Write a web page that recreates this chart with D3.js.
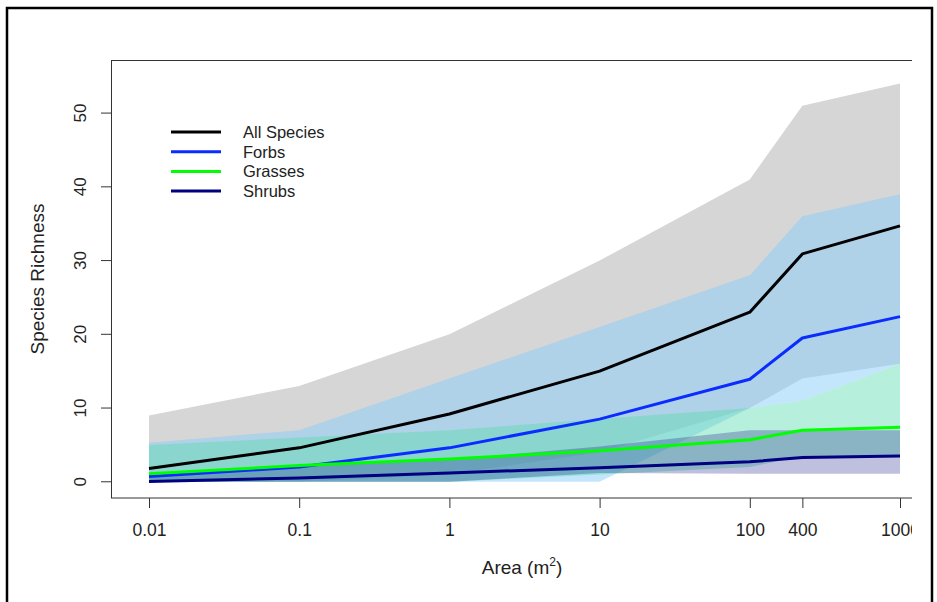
<!DOCTYPE html>
<html>
<head>
<meta charset="utf-8">
<script src="https://cdnjs.cloudflare.com/ajax/libs/d3/7.8.5/d3.min.js"></script>
<style>
  body { margin: 0; background: #fff; }
  svg { display: block; font-family: "Liberation Sans", Arial, sans-serif; }
</style>
</head>
<body>
<svg width="937" height="602"></svg>
<script>
// areas sampled (m^2) and where the original plot put them on the x axis
var areaLabels = ['0.01', '0.1', '1', '10', '100', '400', '1000'];
var areaPos = [-2, -1, 0, 1, 2, 2.35, 3];

var allMean  = [1.8, 4.6, 9.2, 15.0, 23.0, 30.9, 34.7];
var allLo    = [0, 0, 1, 4, 10, 14, 16];
var allHi    = [9, 13, 20, 30, 41, 51, 54];

var forbMean = [0.7, 2.0, 4.6, 8.5, 13.9, 19.5, 22.4];
var forbLo   = [0, 0, 0, 0, 10, 11, 16];
var forbHi   = [5.3, 7, 14, 21, 28, 36, 39];

var grassMean = [1.1, 2.2, 3.1, 4.2, 5.7, 7.0, 7.4];
var grassLo   = [0, 0, 0, 1, 2, 3.5, 3.5];
var grassHi   = [5, 6, 7, 8.5, 10, 11, 16];

var shrubMean = [0.05, 0.5, 1.2, 1.9, 2.7, 3.3, 3.5];
var shrubLo   = [0, 0, 0, 1.2, 1.1, 1.1, 1.1];
var shrubHi   = [1.2, 2.2, 3.0, 4.8, 7, 7, 7];

var yTicks = [0, 10, 20, 30, 40, 50];

var series = [
  { name: 'All Species', mean: allMean, lo: allLo, hi: allHi, line: '#000000', fill: '#d6d6d6', op: 1 },
  { name: 'Forbs', mean: forbMean, lo: forbLo, hi: forbHi, line: '#0a2cff', fill: '#87cefa', op: 0.5 },
  { name: 'Grasses', mean: grassMean, lo: grassLo, hi: grassHi, line: '#00ff00', fill: '#5edcb0', op: 0.45 },
  { name: 'Shrubs', mean: shrubMean, lo: shrubLo, hi: shrubHi, line: '#000080', fill: '#1a1a8a', op: 0.28 }
];

var svg = d3.select('svg');

// outer frame
svg.append('rect')
  .attr('x', 7).attr('y', 8).attr('width', 925).attr('height', 620)
  .attr('fill', 'none').attr('stroke', '#000').attr('stroke-width', 2.5);

svg.append('clipPath').attr('id', 'crop')
  .append('rect').attr('x', 0).attr('y', 0).attr('width', 912).attr('height', 602);

var g = svg.append('g').attr('clip-path', 'url(#crop)');

var x = d3.scaleLinear().domain([-2.253, 3]).range([111, 900]),
    y = d3.scaleLinear().domain([-2.2, 57.2]).range([498, 60]);

var idx = d3.range(areaPos.length);

var area = function(s) {
  return d3.area()
    .x(function(i) { return x(areaPos[i]); })
    .y0(function(i) { return y(s.lo[i]); })
    .y1(function(i) { return y(s.hi[i]); });
};
var line = function(s) {
  return d3.line()
    .x(function(i) { return x(areaPos[i]); })
    .y(function(i) { return y(s.mean[i]); });
};

g.selectAll('path.band')
  .data(series)
  .enter()
  .append('path')
  .attr('class', 'band')
  .attr('d', function(s) { return area(s)(idx); })
  .attr('fill', function(s) { return s.fill; })
  .attr('fill-opacity', function(s) { return s.op; });

g.selectAll('path.mean')
  .data(series)
  .enter()
  .append('path')
  .attr('class', 'mean')
  .attr('d', function(s) { return line(s)(idx); })
  .attr('fill', 'none')
  .attr('stroke', function(s) { return s.line; })
  .attr('stroke-width', 3)
  .attr('stroke-linejoin', 'round');

// plot box
g.append('rect')
  .attr('x', 111.5).attr('y', 60.5).attr('width', 900).attr('height', 437.5)
  .attr('fill', 'none').attr('stroke', '#333').attr('stroke-width', 1);

// axes
var xAxis = d3.axisBottom(x)
  .tickValues(areaPos)
  .tickFormat(function(d, i) { return areaLabels[i]; })
  .tickSize(10).tickPadding(16);

var xg = g.append('g').attr('transform', 'translate(0,498)').call(xAxis);
xg.select('.domain').remove();
xg.selectAll('line').attr('stroke', '#333');
xg.selectAll('text').attr('font-size', 17.5).attr('fill', '#222')
  .attr('font-family', '"Liberation Sans", Arial, sans-serif');

var yAxis = d3.axisLeft(y).tickValues(yTicks).tickSize(10);
var yg = g.append('g').attr('transform', 'translate(111,0)').call(yAxis);
yg.select('.domain').remove();
yg.selectAll('line').attr('stroke', '#333');
yg.selectAll('text')
  .attr('font-size', 17).attr('fill', '#222')
  .attr('font-family', '"Liberation Sans", Arial, sans-serif')
  .attr('x', null).attr('dy', null)
  .attr('text-anchor', 'middle')
  .attr('transform', function(d) { return 'translate(-31,' + y(d) + ') rotate(-90) translate(0,6)'; })
  .attr('y', 0);
yg.selectAll('.tick').attr('transform', null);
yg.selectAll('.tick line').attr('transform', function(d) { return 'translate(0,' + y(d) + ')'; });

// axis titles
var xt = g.append('text')
  .attr('x', 522).attr('y', 574)
  .attr('text-anchor', 'middle')
  .attr('font-size', 19).attr('fill', '#222');
xt.append('tspan').text('Area (m');
xt.append('tspan').attr('font-size', 12).attr('dy', -8).text('2');
xt.append('tspan').attr('dy', 8).text(')');

g.append('text')
  .attr('transform', 'translate(44,279) rotate(-90)')
  .attr('text-anchor', 'middle')
  .attr('font-size', 19).attr('fill', '#222')
  .text('Species Richness');

// legend
var leg = g.append('g').attr('class', 'legend');
var rows = leg.selectAll('g')
  .data(series)
  .enter()
  .append('g')
  .attr('transform', function(d, i) { return 'translate(171,' + (132 + i * 19.7) + ')'; });
rows.append('line')
  .attr('x1', 0).attr('x2', 50)
  .attr('stroke', function(d) { return d.line; })
  .attr('stroke-width', 3);
rows.append('text')
  .attr('x', 72).attr('dy', 6)
  .attr('font-size', 16.5).attr('fill', '#222')
  .text(function(d) { return d.name; });
</script>
</body>
</html>
